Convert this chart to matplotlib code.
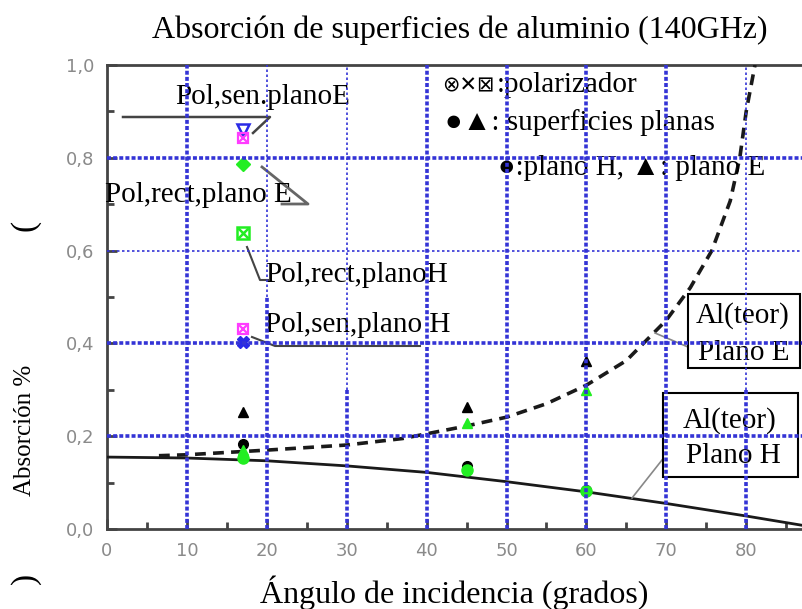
import numpy as np
import matplotlib.pyplot as plt
from matplotlib.lines import Line2D
from matplotlib.patches import Rectangle

W, H = 802, 609

# theoretical curves (angle in deg, absorption)
ang_h = [0, 10, 20, 30, 40, 50, 60, 70, 80, 87]
abs_h = [0.155, 0.153, 0.147, 0.136, 0.122, 0.102, 0.080, 0.055, 0.028, 0.008]
ang_e = [6.5, 10, 20, 30, 37, 45, 50, 55, 60, 65, 70, 73, 75.7, 78, 79.2, 80, 81.1]
abs_e = [0.158, 0.160, 0.170, 0.181, 0.195, 0.222, 0.241, 0.270, 0.310,
         0.363, 0.450, 0.520, 0.600, 0.707, 0.800, 0.900, 1.0]

# flat surfaces
ang_pts = [17, 45, 60]
tri_black = [0.252, 0.262, 0.363]
tri_green = [0.170, 0.228, 0.300]
dot_black = [0.183, 0.135, 0.083]
dot_green = [0.152, 0.128, 0.082]

# polarizer samples, all at 17 deg
pol_ang = 17
pol_blue = [0.860, 0.402]
pol_mag = [0.842, 0.432]
pol_green = [0.787, 0.638]

xticks = [0, 10, 20, 30, 40, 50, 60, 70, 80]
yticks = [0.0, 0.2, 0.4, 0.6, 0.8, 1.0]
ytick_labels = ['0,0', '0,2', '0,4', '0,6', '0,8', '1,0']

serif = ['Liberation Serif', 'DejaVu Sans']
blue = '#2a2ae6'
mag = '#ff3cff'
grn = '#22ee22'
gridc = '#3434d6'

fig = plt.figure(figsize=(W / 100, H / 100), dpi=100)
ax = fig.add_axes([107 / W, 1 - 529 / H, (W - 107) / W, (529 - 65) / H])

def fx(px):
    return px / W

def fy(py):
    return 1 - py / H

# curves
ax.plot(ang_h, abs_h, color='#1a1a1a', lw=2, zorder=3)
ax.plot(ang_e, abs_e, color='#1a1a1a', lw=2.6, ls=(0, (3, 2)), zorder=3)

# flat surface points
ax.plot(ang_pts, tri_black, '^', color='black', ms=7.5, zorder=4)
ax.plot(ang_pts, dot_black, 'o', color='black', ms=7, zorder=4)
ax.plot(ang_pts, tri_green, '^', color=grn, ms=7.5, zorder=4)
ax.plot(ang_pts, dot_green, 'o', color=grn, ms=8, zorder=4)

# polarizer points
ax.plot([pol_ang], [pol_blue[0]], 'v', mfc='none', mec=blue, mew=1.8, ms=8, zorder=4)
ax.plot([pol_ang], [pol_blue[1]], 'X', color=blue, ms=8, zorder=4)
ax.plot([pol_ang] * 2, pol_mag, 's', mfc='none', mec=mag, mew=1.6, ms=7, zorder=4)
ax.plot([pol_ang] * 2, pol_mag, 'x', color=mag, mew=1.6, ms=6, zorder=4)
ax.plot([pol_ang], [pol_green[0]], 'D', color=grn, ms=7, zorder=4)
ax.plot([pol_ang], [pol_green[1]], 's', mfc='none', mec=grn, mew=1.8, ms=8, zorder=4)
ax.plot([pol_ang], [pol_green[1]], 'x', color=grn, mew=1.8, ms=7, zorder=4)

ax.set_xlim(0, (W - 107) / 7.99)
ax.set_ylim(0, 1)
ax.set_xticks(xticks, [str(t) for t in xticks])
ax.set_yticks(yticks, ytick_labels)
ax.set_xticks(np.arange(5, 86, 10), minor=True)
ax.set_yticks([0.1, 0.3, 0.5, 0.7, 0.9], minor=True)
ax.tick_params(which='both', direction='in', color='#444', width=2)
ax.tick_params(which='major', length=7, labelsize=13, labelcolor='#8a8a8a', pad=9)
ax.tick_params(which='minor', length=5)
for s in ['left', 'top', 'bottom']:
    ax.spines[s].set_color('#444')
    ax.spines[s].set_linewidth(2)
ax.spines['right'].set_visible(False)

# blue dotted grid drawn over everything
thick = dict(color=gridc, lw=2.6, ls=(0, (1.1, 0.6)), zorder=10)
thin = dict(color=gridc, lw=1.2, ls=(0, (1.5, 1.5)), zorder=10)
ax.axvline(10, **thick)
ax.axvline(20, ymin=0.5, ymax=1, **thin)
ax.axvline(20, ymin=0, ymax=0.5, **thick)
ax.axvline(30, ymin=0.3, ymax=1, **thin)
ax.axvline(30, ymin=0, ymax=0.3, **thick)
for x in [40, 50, 60, 70]:
    ax.axvline(x, **thick)
ax.axvline(80, ymin=0.3, ymax=1, **thin)
ax.axvline(80, ymin=0, ymax=0.3, **thick)
for y in [0.2, 0.4, 0.8]:
    ax.axhline(y, **thick)
ax.axhline(0.6, **thin)

def ftext(px, py, s, **kw):
    opts = dict(transform=fig.transFigure, family=serif, fontsize=21,
                va='baseline', ha='left', zorder=7, clip_on=False)
    opts.update(kw)
    ax.text(fx(px), fy(py), s, **opts)

def fline(pts, **kw):
    xs = [fx(p[0]) for p in pts]
    ys = [fy(p[1]) for p in pts]
    ax.add_line(Line2D(xs, ys, transform=fig.transFigure, clip_on=False,
                       zorder=5, **kw))

# title and x label
ftext(460, 38, 'Absorción de superficies de aluminio (140GHz)', fontsize=23, ha='center')
ftext(454, 603, 'Ángulo de incidencia (grados)', fontsize=23, ha='center')

# y label with its stray parentheses
ftext(25, 430, 'Absorción %', fontsize=18, rotation=90, ha='center', va='center')
ftext(25, 225, '(', fontsize=24, rotation=90, ha='center', va='center')
ftext(26, 578, ')', fontsize=24, rotation=90, ha='center', va='center')

# callout labels
ftext(175, 104, 'Pol,sen.planoE')
ftext(105, 202, 'Pol,rect,plano E')
ftext(265, 282, 'Pol,rect,planoH')
ftext(265, 332, 'Pol,sen,plano H')
fline([(123, 117), (270, 117), (253, 133)], color='#444', lw=1.8)
fline([(262, 167), (308, 204), (282, 204)], color='#666', lw=2)
fline([(247, 247), (260, 280), (268, 280)], color='#444', lw=1.5)
fline([(252, 337), (275, 346), (420, 346)], color='#444', lw=1.5)

# symbol legend texts
ftext(442, 91, '⊗✕⊠', fontsize=15, family=['DejaVu Sans'])
ftext(497, 92, ':polarizador')
ftext(445, 130, '●▲: superficies planas')
ftext(498, 175, '●:plano H, ▲: plano E')

# boxed theory labels
for (x0, y0, x1, y1) in [(688, 294, 800, 368), (663, 393, 798, 477)]:
    ax.add_patch(Rectangle((fx(x0), fy(y1)), fx(x1) - fx(x0), fy(y0) - fy(y1),
                           transform=fig.transFigure, facecolor='white',
                           edgecolor='black', lw=1.5, zorder=6, clip_on=False))
ftext(743, 323, 'Al(teor)', ha='center')
ftext(744, 360, 'Plano E', ha='center')
ftext(730, 428, 'Al(teor)', ha='center')
ftext(733, 463, 'Plano H', ha='center')
fline([(655, 333), (688, 347)], color='#888', lw=1.2)
fline([(632, 498), (662, 460)], color='#888', lw=1.2)

plt.savefig('out.png', dpi=100)
